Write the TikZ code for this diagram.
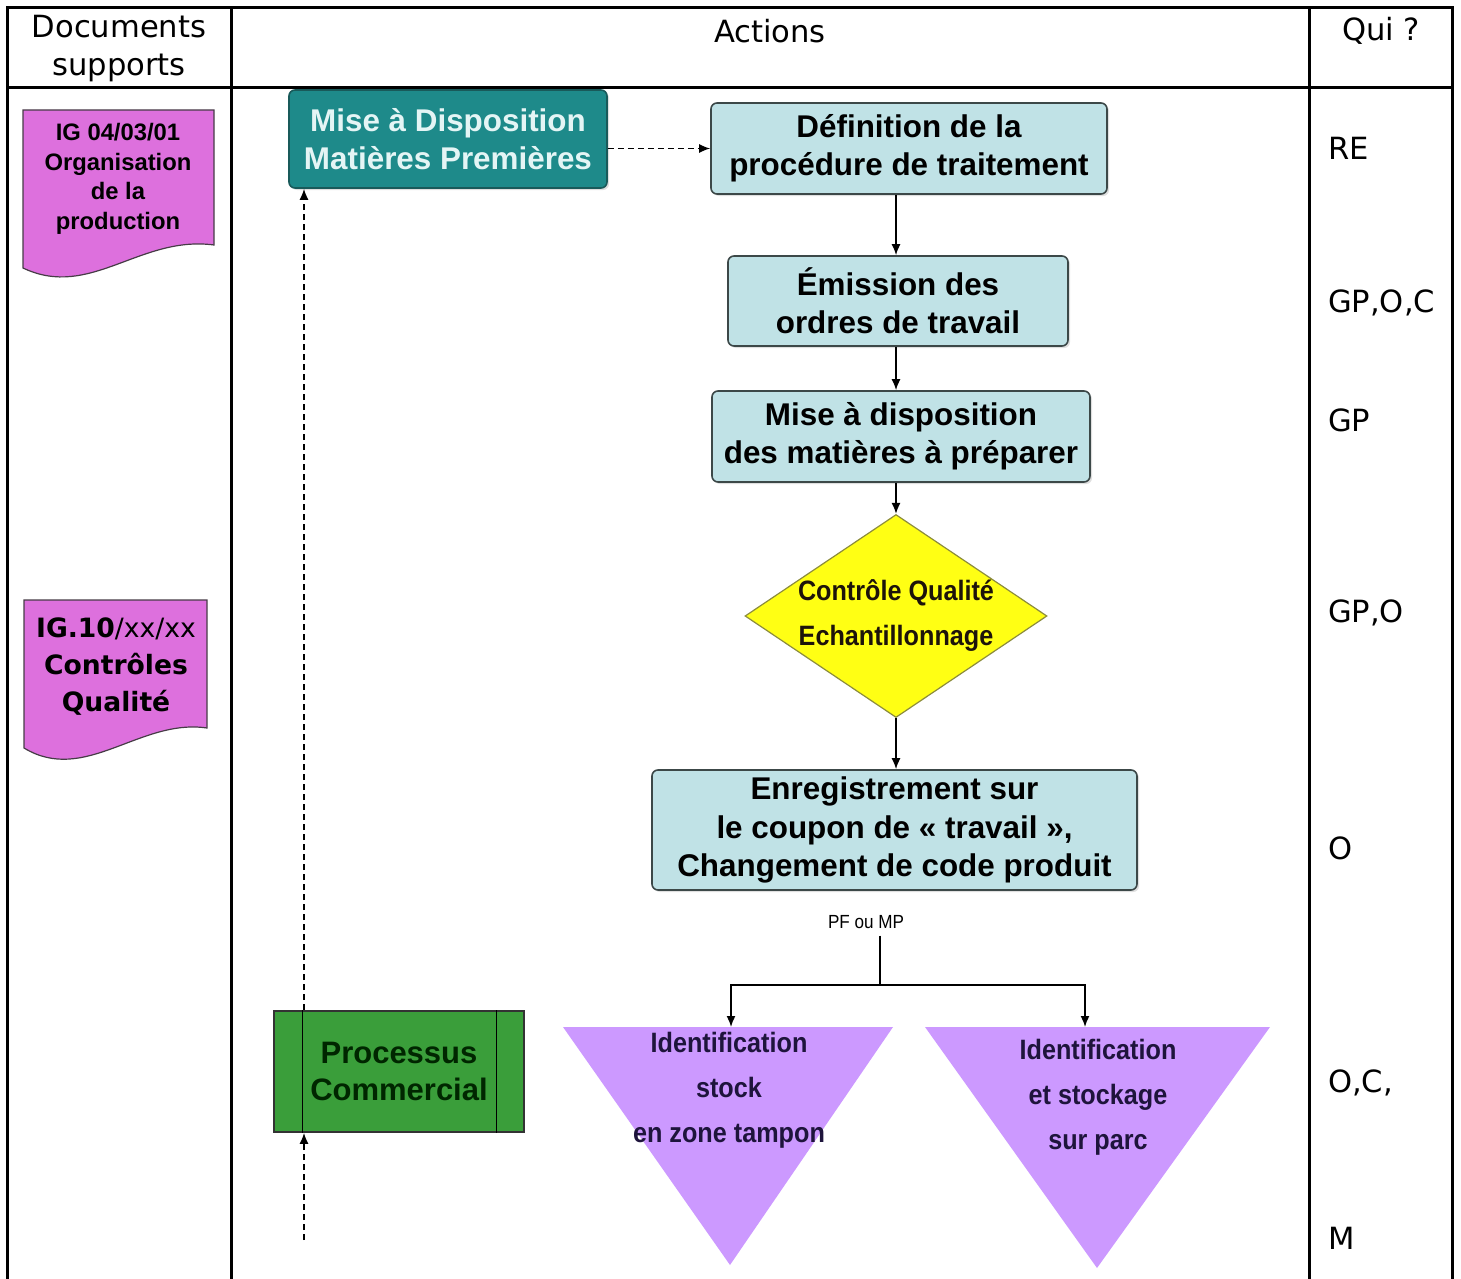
\documentclass[tikz,border=0pt]{standalone}
\usepackage{fontspec}
\setmainfont{Liberation Sans}
\newfontfamily\verd{DejaVu Sans}
\newfontfamily\narrow[FakeStretch=0.9]{Liberation Sans}
\usepackage{tikz}
\usetikzlibrary{arrows.meta,shapes.geometric,shadows}
\usepackage{xcolor}

\definecolor{mpteal}{RGB}{30,138,138}
\definecolor{mpborder}{RGB}{25,90,90}
\definecolor{mptext}{RGB}{228,245,245}
\definecolor{actblue}{RGB}{192,226,230}
\definecolor{actborder}{RGB}{60,72,72}
\definecolor{cqyellow}{RGB}{255,255,20}
\definecolor{cqborder}{RGB}{140,140,60}
\definecolor{trililac}{RGB}{204,153,255}
\definecolor{tritext}{RGB}{30,20,60}
\definecolor{procgreen}{RGB}{58,158,58}
\definecolor{docpink}{RGB}{221,112,221}
\definecolor{docborder}{RGB}{70,60,70}

\begin{document}
\begin{tikzpicture}[x=0.5pt, y=-0.5pt, >={Latex[length=5.5pt,width=4.5pt]}]
\tikzset{head/.style = {align=center, font=\verd\fontsize{15.3}{19}\selectfont}}
\tikzset{qui/.style = {anchor=west, font=\verd\fontsize{15.3}{19}\selectfont}}
\tikzset{action/.style = {shape=rectangle, rounded corners=3pt, draw=actborder, fill=actblue, line width=0.8pt, inner sep=0pt, align=center, font=\bfseries\fontsize{15.7}{19.2}\selectfont, drop shadow={shadow xshift=1pt, shadow yshift=-1pt, opacity=0.25}}}
\tikzset{doc/.style = {fill=docpink, draw=docborder, line width=0.6pt}}
\tikzset{tri/.style = {fill=trililac}}
\tikzset{trilabel/.style = {align=center, text=tritext, font=\narrow\bfseries\fontsize{14}{22.5}\selectfont}}
\tikzset{edge/.style = {->, line width=0.8pt}}
\tikzset{dashedge/.style = {->, line width=0.8pt, dash pattern=on 3pt off 2pt}}

\useasboundingbox (0,0) rectangle (1461,1279);

%table
\draw[line width=1.5pt] (7,1279) -- (7,8) -- (1452,8) -- (1452,1279);
\draw[line width=1.5pt] (7,88) -- (1452,88);
\draw[line width=1.5pt] (231,8) -- (231,1279);
\draw[line width=1.5pt] (1309,8) -- (1309,1279);

\node[head] (hdocs) at (119,49) {Documents\\supports};
\node[head] (hact) at (770,31) {Actions};
\node[head] (hqui) at (1381,31) {Qui ?};

%documents
\draw[doc] (23,110) -- (214,110) -- (214,245) .. controls (140,235) and (90,300) .. (23,268) -- cycle;
\node[align=center, font=\bfseries\fontsize{11.9}{14.75}\selectfont] (ig1) at (118,179) {IG 04/03/01\\Organisation\\de la\\production};
\draw[doc] (24,600) -- (207,600) -- (207,728) .. controls (140,718) and (85,785) .. (24,748) -- cycle;
\node[align=center, font=\verd\fontsize{13.3}{18.5}\selectfont] (ig2) at (116,667) {\textbf{IG.10}/xx/xx\\\textbf{Contrôles}\\\textbf{Qualité}};

%actions
\node[action, fill=mpteal, draw=mpborder, text=mptext, minimum width=159pt, minimum height=49pt] (mp) at (448,139) {Mise à Disposition\\Matières Premières};
\node[action, minimum width=198pt, minimum height=45.5pt] (def) at (909,148.5) {Définition de la\\procédure de traitement};
\node[action, minimum width=170pt, minimum height=45pt] (emi) at (898,301) {Émission des\\ordres de travail};
\node[action, minimum width=189pt, minimum height=45.5pt] (mad) at (901,436.5) {Mise à disposition\\des matières à préparer};
\node[diamond, fill=cqyellow, draw=cqborder, line width=0.6pt, minimum width=151pt, minimum height=101.5pt, inner sep=0pt,
  label={[trilabel, text=black!85!brown]center:Contrôle Qualité\\Echantillonnage}] (cq) at (896,616) {};
\node[action, minimum width=242.5pt, minimum height=60pt] (enr) at (894.5,830) {Enregistrement sur\\le coupon de « travail »,\\Changement de code produit};
\node[font=\narrow\fontsize{9.5}{11}\selectfont] (pf) at (866,922) {PF ou MP};
\coordinate (split) at (880,985);

\fill[tri] (563,1027) -- (893,1027) -- (730,1265) -- cycle;
\fill[tri] (925,1027) -- (1270,1027) -- (1097,1268) -- cycle;
\coordinate (stocktop) at (731,1027);
\coordinate (parctop) at (1085,1027);
\node[trilabel] (stock) at (729,1090) {Identification\\stock\\en zone tampon};
\node[trilabel] (parc) at (1098,1097) {Identification\\et stockage\\sur parc};

\node[shape=rectangle, fill=procgreen, draw=black!80, line width=0.8pt, minimum width=125pt, minimum height=60.5pt, inner sep=0pt, align=center, text=black!85!green, font=\bfseries\fontsize{15.5}{18.5}\selectfont] (proc) at (399,1071.5) {Processus\\Commercial};
\draw[line width=0.6pt] ([xshift=14.5pt]proc.north west) -- ([xshift=14.5pt]proc.south west);
\draw[line width=0.6pt] ([xshift=-14pt]proc.north east) -- ([xshift=-14pt]proc.south east);
\coordinate (client) at (304,1240);

%edges
\draw[dashedge] (mp.east |- def) -- (def.west);
\draw[edge] (def.south -| cq) -- (emi.north -| cq);
\draw[edge] (emi.south -| cq) -- (mad.north -| cq);
\draw[edge] (mad.south -| cq) -- (cq.north);
\draw[edge] (cq.south) -- (enr.north -| cq);
\draw[line width=0.8pt] (split |- pf.south) -- (split);
\draw[edge] (split) -| (stocktop);
\draw[edge] (split) -| (parctop);
\draw[dashedge] (client) -- (client |- proc.south);
\draw[dashedge] (client |- proc.north) -- (client |- mp.south);

%qui
\node[qui] (q1) at (1321,148) {RE};
\node[qui] (q2) at (1321,303) {GP,O,C};
\node[qui] (q3) at (1321,420) {GP};
\node[qui] (q4) at (1321,613) {GP,O};
\node[qui] (q5) at (1321,848) {O};
\node[qui] (q6) at (1321,1083) {O,C,};
\node[qui] (q7) at (1321,1238) {M};

\end{tikzpicture}
\end{document}
